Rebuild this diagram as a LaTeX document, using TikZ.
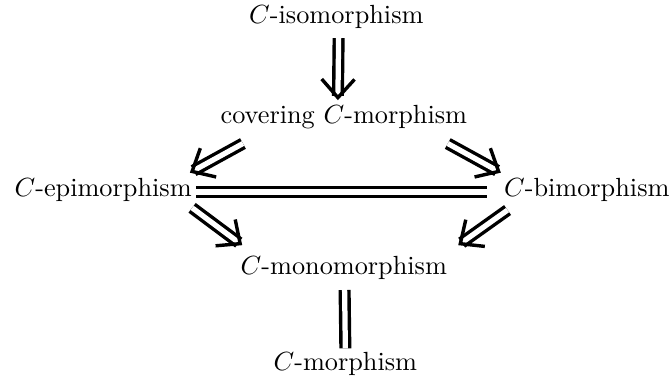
\documentclass[tikz,border=0pt]{standalone}
\usepackage{amsmath}
\usetikzlibrary{arrows.meta}

\tikzset{
  imp/.style={double, line width=1.3pt, double distance=2pt,
    -{Straight Barb[length=7pt, width=12.5pt, line width=1.3pt]}},
  eq/.style={double, line width=1.3pt, double distance=2pt}
}

\begin{document}
\begin{tikzpicture}
  \useasboundingbox (0,0) rectangle (8.99,-5.11);
  \node (iso)   at (4.50,-0.23) {$C$-isomorphism};
  \node (cov)   at (4.60,-1.57) {covering $C$-morphism};
  \node (epi)   at (1.38,-2.54) {$C$-epimorphism};
  \node (bi)    at (7.85,-2.54) {$C$-bimorphism};
  \node (mono)  at (4.60,-3.59) {$C$-monomorphism};
  \node (morph) at (4.62,-4.87) {$C$-morphism};

  \draw[imp] ([shift={(0.03,-0.28)}]iso.center) -- ([shift={(-0.08,0.23)}]cov.center);
  \draw[imp] ([shift={(-1.35,-0.35)}]cov.center) -- ([shift={(1.16,0.23)}]epi.center);
  \draw[imp] ([shift={(1.39,-0.35)}]cov.center) -- ([shift={(-1.15,0.23)}]bi.center);
  \draw[imp] ([shift={(1.19,-0.24)}]epi.center) -- ([shift={(-1.36,0.31)}]mono.center);
  \draw[imp] ([shift={(-1.06,-0.27)}]bi.center) -- ([shift={(1.53,0.31)}]mono.center);
  \draw[eq] ([shift={(1.24,-0.03)}]epi.center) -- ([shift={(-1.33,-0.03)}]bi.center);
  \draw[eq] ([shift={(0.01,-0.29)}]mono.center) -- ([shift={(0,0.21)}]morph.center);
\end{tikzpicture}
\end{document}
